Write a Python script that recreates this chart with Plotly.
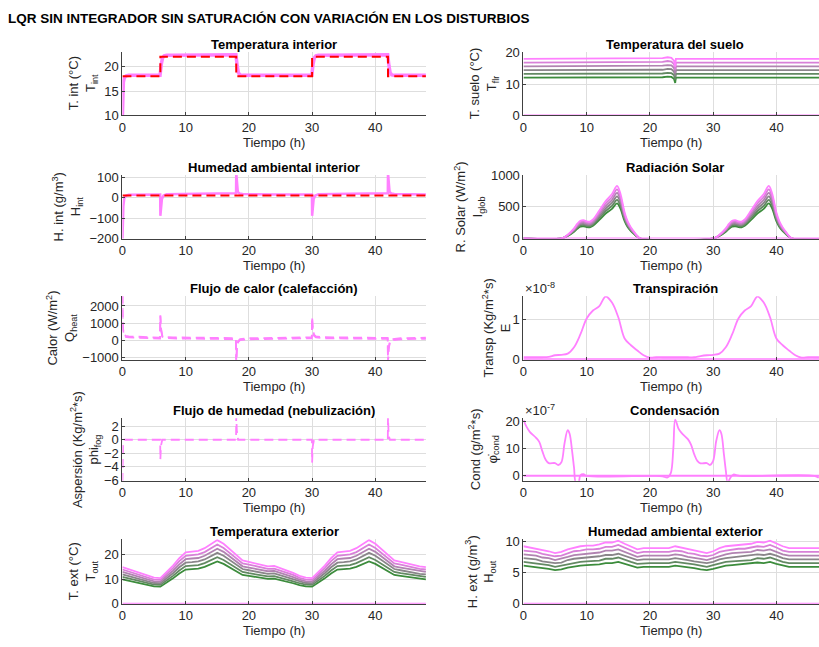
import plotly.graph_objects as go

# ------------------------------------------------------------------
# Data (time in hours)
# ------------------------------------------------------------------
t_hourly = list(range(49))

# Interior temperature (all scenarios overlap) and its set point
t_tint = [0, 0.05, 0.15, 0.3, 0.6, 1, 5.95, 6.15, 6.35, 6.6, 7, 8, 17.95, 18.15, 18.35, 18.6, 19, 20,
          29.95, 30.15, 30.35, 30.6, 31, 32, 41.95, 42.15, 42.35, 42.6, 43, 44, 48]
T_int = [10, 14.5, 16.8, 17.7, 18.1, 18.2, 18.2, 20.5, 21.8, 22.2, 22.3, 22.3, 22.4, 20.2, 18.7, 18.3, 18.2, 18.2,
         18.2, 20.5, 21.8, 22.2, 22.3, 22.3, 22.4, 20.2, 18.7, 18.3, 18.2, 18.2, 18.2]
t_tint_ref = [0, 6, 6, 18, 18, 30, 30, 42, 42, 48]
T_int_ref = [18, 18, 22, 22, 18, 18, 22, 22, 18, 18]

# Interior humidity and its set point
t_hint = [0, 0.05, 0.15, 0.3, 0.6, 1, 5.97, 6.0, 6.1, 6.25, 6.5, 7, 12, 17.97, 18.0, 18.1, 18.25, 18.5, 19, 24,
          29.97, 30.0, 30.1, 30.25, 30.5, 31, 36, 41.97, 42.0, 42.1, 42.25, 42.5, 43, 48]
H_int = [-210, -120, -40, 0, 12, 16, 17, -88, -35, -5, 12, 18, 21, 23, 125, 55, 30, 22, 19, 17,
         17, -88, -35, -5, 12, 18, 21, 23, 125, 55, 30, 22, 19, 17]
t_hint_ref = [0, 48]
H_int_ref = [12, 12]

# Heating flux (two overlapping scenario groups)
t_q = [0, 0.05, 0.2, 0.5, 1, 3, 5.95, 6.0, 6.1, 6.3, 6.6, 8, 12, 17.95, 18.0, 18.1, 18.3, 18.6, 20, 25,
       29.95, 30.0, 30.1, 30.3, 30.6, 32, 36, 41.95, 42.0, 42.1, 42.3, 42.6, 44, 48]
Q_heat_a = [2700, 900, 320, 250, 220, 180, 150, 1450, 700, 260, 190, 160, 140, 120, -1300, -500, -60, 60, 110, 140,
            170, 1350, 700, 320, 220, 170, 150, 130, -1300, -500, -60, 60, 110, 140]
Q_heat_b = [2600, 850, 260, 190, 160, 120, 90, 1400, 650, 200, 130, 100, 80, 60, -1350, -550, -120, 0, 50, 80,
            110, 1300, 650, 260, 160, 110, 90, 70, -1350, -550, -120, 0, 50, 80]

# Fogging flux
t_fog = [0, 0.03, 0.1, 0.3, 5.97, 6.0, 6.1, 6.3, 17.97, 18.0, 18.1, 18.3, 29.97, 30.0, 30.1, 30.3,
         41.97, 42.0, 42.1, 42.3, 48]
phi_fog = [-6.3, -3.0, -0.8, 0, 0, -2.9, -0.9, 0, 0, 3.6, 1.2, 0, 0, -3.4, -1.0, 0, 0, 3.4, 0.7, 0, 0]

# Floor temperature, one list per disturbance scenario (green -> magenta)
t_flr = [0, 21, 22, 22.8, 23.4, 23.8, 24.0, 24.1, 48]
T_flr = [
    [12.1, 12.1, 12.2, 12.4, 12.3, 11.7, 10.4, 12.1, 12.1],
    [13.3, 13.3, 13.4, 13.6, 13.5, 12.9, 11.4, 13.3, 13.3],
    [14.5, 14.5, 14.6, 14.9, 14.8, 14.0, 12.5, 14.5, 14.5],
    [15.7, 15.7, 15.9, 16.1, 16.0, 15.2, 13.5, 15.7, 15.7],
    [16.9, 16.9, 17.1, 17.4, 17.2, 16.4, 14.6, 16.9, 16.9],
    [18.1, 18.1, 18.3, 18.6, 18.4, 17.5, 15.6, 18.1, 18.1],
]

# Global solar radiation per scenario
t_rad = [0, 6, 7, 8, 8.5, 9, 9.5, 10, 10.5, 11, 12, 13, 14, 14.8, 15.3, 16, 16.5, 17, 17.5, 18, 18.5,
         30, 31, 32, 32.5, 33, 33.5, 34, 34.5, 35, 36, 37, 38, 38.8, 39.3, 40, 40.5, 41, 41.5, 42, 42.5, 48]
I_glob = [
    [0, 0, 40, 107, 153, 187, 193, 180, 177, 200, 293, 393, 467, 553, 480, 273, 177, 117, 70, 27, 0,
     0, 40, 107, 153, 187, 193, 180, 177, 200, 293, 393, 467, 553, 480, 273, 177, 117, 70, 27, 0, 0],
    [0, 0, 44, 117, 169, 205, 213, 198, 194, 220, 323, 433, 513, 609, 528, 301, 194, 128, 77, 29, 0,
     0, 44, 117, 169, 205, 213, 198, 194, 220, 323, 433, 513, 609, 528, 301, 194, 128, 77, 29, 0, 0],
    [0, 0, 48, 128, 184, 224, 232, 216, 212, 240, 352, 472, 560, 664, 576, 328, 212, 140, 84, 32, 0,
     0, 48, 128, 184, 224, 232, 216, 212, 240, 352, 472, 560, 664, 576, 328, 212, 140, 84, 32, 0, 0],
    [0, 0, 52, 139, 199, 243, 251, 234, 230, 260, 381, 511, 607, 719, 624, 355, 230, 152, 91, 35, 0,
     0, 52, 139, 199, 243, 251, 234, 230, 260, 381, 511, 607, 719, 624, 355, 230, 152, 91, 35, 0, 0],
    [0, 0, 56, 149, 215, 261, 271, 252, 247, 280, 411, 551, 653, 775, 672, 383, 247, 163, 98, 37, 0,
     0, 56, 149, 215, 261, 271, 252, 247, 280, 411, 551, 653, 775, 672, 383, 247, 163, 98, 37, 0, 0],
    [0, 0, 60, 160, 230, 280, 290, 270, 265, 300, 440, 590, 700, 830, 720, 410, 265, 175, 105, 40, 0,
     0, 60, 160, 230, 280, 290, 270, 265, 300, 440, 590, 700, 830, 720, 410, 265, 175, 105, 40, 0, 0],
]

# Transpiration (units of 1e-8 kg/m2 s), hourly
E_transp = [0.05, 0.05, 0.05, 0.05, 0.06, 0.10, 0.11, 0.14, 0.30, 0.62, 1.02, 1.22, 1.33, 1.57, 1.42, 1.05,
            0.52, 0.35, 0.22, 0.10, 0.04, 0.05, 0.05, 0.05, 0.05, 0.05, 0.05, 0.05, 0.08, 0.10, 0.11, 0.14,
            0.30, 0.62, 1.02, 1.22, 1.33, 1.57, 1.42, 1.05, 0.52, 0.35, 0.22, 0.10, 0.04, 0.05, 0.05, 0.05, 0.05]

# Condensation (units of 1e-7 g/m2 s)
t_cond = [0, 0.5, 1, 2, 2.5, 3, 3.5, 4, 5, 5.5, 6, 6.5, 7, 7.3, 7.7, 8, 8.3, 8.7, 9, 9.5, 10, 21, 22, 22.8,
          23.3, 23.7, 24, 24.5, 25, 26, 26.5, 27, 27.5, 28, 29, 29.5, 30, 30.5, 31, 31.3, 31.7, 32, 32.3,
          32.7, 33.2, 33.7, 34.2, 46, 46.7]
phi_cond = [20.5, 18, 16.2, 14, 12.5, 9, 6, 4.7, 4.7, 4, 5, 12, 16.8, 15.5, 9, 3, -2.5, -2.5, 0.2, 0.6, 0,
            0, -0.2, -0.6, 1, 10, 20.7, 17.5, 15.8, 13.5, 11.5, 8, 5.5, 4.6, 4.7, 4, 5.5, 13, 16.8, 15.5,
            8, 2, -2.5, -0.8, 0.5, 0.3, 0, 0, -0.7]

# Outdoor temperature per scenario, hourly
T_out = [
    [10.0, 9.4, 8.9, 8.3, 7.6, 7.1, 7.0, 8.6, 10.4, 12.4, 14.0, 14.2, 14.4, 15.1, 16.3, 17.3, 16.3, 14.8, 13.1, 11.8,
     11.4, 11.0, 10.5, 10.2, 10.3, 9.7, 9.2, 8.4, 7.6, 7.1, 7.0, 8.6, 10.4, 12.4, 14.0, 14.2, 14.4, 15.1, 16.3, 17.3,
     16.3, 14.8, 13.1, 11.8, 11.4, 11.0, 10.5, 10.2, 10.0],
    [11.0, 10.3, 9.8, 9.1, 8.4, 7.8, 7.7, 9.5, 11.4, 13.6, 15.4, 15.6, 15.8, 16.6, 17.9, 19.0, 17.9, 16.3, 14.4, 13.0,
     12.5, 12.1, 11.6, 11.2, 11.3, 10.7, 10.1, 9.2, 8.4, 7.8, 7.7, 9.5, 11.4, 13.6, 15.4, 15.6, 15.8, 16.6, 17.9, 19.0,
     17.9, 16.3, 14.4, 13.0, 12.5, 12.1, 11.6, 11.2, 11.0],
    [12.0, 11.3, 10.7, 10.0, 9.1, 8.5, 8.4, 10.3, 12.5, 14.9, 16.8, 17.0, 17.3, 18.1, 19.6, 20.8, 19.6, 17.8, 15.7, 14.2,
     13.7, 13.2, 12.6, 12.2, 12.4, 11.6, 11.0, 10.1, 9.1, 8.5, 8.4, 10.3, 12.5, 14.9, 16.8, 17.0, 17.3, 18.1, 19.6, 20.8,
     19.6, 17.8, 15.7, 14.2, 13.7, 13.2, 12.6, 12.2, 12.0],
    [13.0, 12.2, 11.6, 10.8, 9.9, 9.2, 9.1, 11.2, 13.5, 16.1, 18.2, 18.5, 18.7, 19.6, 21.2, 22.5, 21.2, 19.2, 17.0, 15.3,
     14.8, 14.3, 13.7, 13.3, 13.4, 12.6, 12.0, 10.9, 9.9, 9.2, 9.1, 11.2, 13.5, 16.1, 18.2, 18.5, 18.7, 19.6, 21.2, 22.5,
     21.2, 19.2, 17.0, 15.3, 14.8, 14.3, 13.7, 13.3, 13.0],
    [14.0, 13.2, 12.5, 11.6, 10.6, 9.9, 9.8, 12.0, 14.6, 17.4, 19.6, 19.9, 20.2, 21.1, 22.8, 24.2, 22.8, 20.7, 18.3, 16.5,
     16.0, 15.4, 14.7, 14.3, 14.4, 13.6, 12.9, 11.8, 10.6, 9.9, 9.8, 12.0, 14.6, 17.4, 19.6, 19.9, 20.2, 21.1, 22.8, 24.2,
     22.8, 20.7, 18.3, 16.5, 16.0, 15.4, 14.7, 14.3, 14.0],
    [15.0, 14.1, 13.4, 12.5, 11.4, 10.7, 10.5, 12.9, 15.6, 18.6, 21.0, 21.3, 21.6, 22.7, 24.5, 26.0, 24.5, 22.2, 19.7, 17.7,
     17.1, 16.5, 15.8, 15.3, 15.5, 14.6, 13.8, 12.6, 11.4, 10.7, 10.5, 12.9, 15.6, 18.6, 21.0, 21.3, 21.6, 22.7, 24.5, 26.0,
     24.5, 22.2, 19.7, 17.7, 17.1, 16.5, 15.8, 15.3, 15.0],
]

# Outdoor humidity per scenario, hourly
H_out = [
    [6.1, 6.0, 5.9, 5.7, 5.6, 5.4, 5.5, 5.8, 6.0, 6.1, 6.2, 6.2, 6.3, 6.5, 6.5, 6.7, 6.4, 6.1, 5.8, 5.9, 5.9, 5.9, 5.9, 5.9,
     6.1, 6.0, 5.8, 5.7, 5.5, 5.4, 5.6, 5.9, 6.1, 6.2, 6.3, 6.3, 6.4, 6.6, 6.5, 6.7, 6.4, 6.1, 5.9, 5.9, 5.9, 5.9, 5.9, 5.9, 5.9],
    [6.7, 6.6, 6.5, 6.3, 6.2, 5.9, 6.1, 6.4, 6.6, 6.7, 6.8, 6.8, 6.9, 7.2, 7.2, 7.4, 7.0, 6.7, 6.4, 6.5, 6.5, 6.5, 6.5, 6.5,
     6.7, 6.6, 6.4, 6.3, 6.1, 5.9, 6.2, 6.5, 6.7, 6.8, 6.9, 6.9, 7.0, 7.3, 7.2, 7.4, 7.0, 6.7, 6.5, 6.5, 6.5, 6.5, 6.5, 6.5, 6.5],
    [7.3, 7.2, 7.1, 6.8, 6.7, 6.5, 6.6, 7.0, 7.2, 7.3, 7.4, 7.4, 7.6, 7.8, 7.8, 8.0, 7.7, 7.3, 7.0, 7.1, 7.1, 7.1, 7.1, 7.1,
     7.3, 7.2, 7.0, 6.8, 6.6, 6.5, 6.7, 7.1, 7.3, 7.4, 7.6, 7.6, 7.7, 7.9, 7.8, 8.0, 7.7, 7.3, 7.1, 7.1, 7.1, 7.1, 7.1, 7.1, 7.1],
    [7.9, 7.8, 7.7, 7.4, 7.3, 7.0, 7.2, 7.5, 7.8, 7.9, 8.1, 8.1, 8.2, 8.5, 8.5, 8.7, 8.3, 7.9, 7.5, 7.7, 7.7, 7.7, 7.7, 7.7,
     7.9, 7.8, 7.5, 7.4, 7.2, 7.0, 7.3, 7.7, 7.9, 8.1, 8.2, 8.2, 8.3, 8.6, 8.5, 8.7, 8.3, 7.9, 7.7, 7.7, 7.7, 7.7, 7.7, 7.7, 7.7],
    [8.5, 8.4, 8.3, 8.0, 7.8, 7.6, 7.7, 8.1, 8.4, 8.5, 8.7, 8.7, 8.8, 9.1, 9.1, 9.4, 9.0, 8.5, 8.1, 8.3, 8.3, 8.3, 8.3, 8.3,
     8.5, 8.4, 8.1, 8.0, 7.7, 7.6, 7.8, 8.3, 8.5, 8.7, 8.8, 8.8, 9.0, 9.2, 9.1, 9.4, 9.0, 8.5, 8.3, 8.3, 8.3, 8.3, 8.3, 8.3, 8.3],
    [9.2, 9.0, 8.9, 8.6, 8.4, 8.1, 8.3, 8.7, 9.0, 9.2, 9.3, 9.3, 9.5, 9.8, 9.8, 10.1, 9.6, 9.2, 8.7, 8.9, 8.9, 8.9, 8.9, 8.9,
     9.2, 9.0, 8.7, 8.6, 8.3, 8.1, 8.4, 8.9, 9.2, 9.3, 9.5, 9.5, 9.6, 9.9, 9.8, 10.1, 9.6, 9.2, 8.9, 8.9, 8.9, 8.9, 8.9, 8.9, 8.9],
]

# Zero reference plotted alongside the disturbances
t_zero = [0, 48]
zero_line = [0, 0]

# ------------------------------------------------------------------
# Styling
# ------------------------------------------------------------------
FIG_W, FIG_H = 819, 647
FONT = "Liberation Sans, Arial, Helvetica, sans-serif"
INK = "#262626"
MAGENTA = "rgb(255,128,255)"
SCENARIO_COLORS = ["rgb(60,140,60)", "rgb(99,137,99)", "rgb(138,134,138)",
                   "rgb(177,131,177)", "rgb(216,128,216)", "rgb(255,128,255)"]

COL_PX = {"L": (119, 424), "R": (522, 819)}
ROW_PX = [(46, 111), (172, 237), (296, 361), (421, 485), (545, 611)]
PX_PER_H = (424 - 119) / 48.0
X_RANGE = {"L": [0, 48], "R": [0, (819 - 522) / PX_PER_H]}
TITLE_CX = {"L": (119 + 424) / 2, "R": 522 + 24 * PX_PER_H}


def fx(px):
    return px / FIG_W


def fy(px):
    return 1 - px / FIG_H


# (col, row, y range, y ticks, title, y label, label centre px)
panels = [
    ("L", 0, [10, 23], [10, 15, 20], "Temperatura interior", "T. int (°C)<br>T<sub>int</sub>", 79),
    ("R", 0, [0, 20.3], [0, 10, 20], "Temperatura del suelo", "T. suelo (°C)<br>T<sub>flr</sub>", 482),
    ("L", 1, [-200, 113], [-200, -100, 0, 100], "Humedad ambiental interior", "H. int (g/m<sup>3</sup>)<br>H<sub>int</sub>", 64),
    ("R", 1, [0, 1000], [0, 500, 1000], "Radiación Solar", "R. Solar (W/m<sup>2</sup>)<br>I<sub>glob</sub>", 468),
    ("L", 2, [-1140, 2575], [-1000, 0, 1000, 2000], "Flujo de calor (calefacción)", "Calor (W/m<sup>2</sup>)<br>Q<sub>heat</sub>", 58),
    ("R", 2, [-0.01, 1.58], [0, 1], "Transpiración", "Transp (Kg/m<sup>2</sup>*s)<br>E", 495),
    ("L", 3, [-6.1, 3.2], [-6, -4, -2, 0, 2], "Flujo de humedad (nebulización)", "Aspersión (Kg/m<sup>2</sup>*s)<br>phi<sub>fog</sub>", 82),
    ("R", 3, [-1.8, 21.2], [0, 10, 20], "Condensación", "Cond (g/m<sup>2</sup>*s)<br>φ̇<sub>cond</sub>", 482),
    ("L", 4, [0, 26.3], [0, 10, 20], "Temperatura exterior", "T. ext (°C)<br>T<sub>out</sub>", 79),
    ("R", 4, [0, 10.3], [0, 5, 10], "Humedad ambiental exterior", "H. ext (g/m<sup>3</sup>)<br>H<sub>out</sub>", 479),
]

fig = go.Figure()
layout = {}
annotations = []

for i, (col, row, yr, yt, title, ylab, ylab_cx) in enumerate(panels):
    n = i + 1
    suffix = "" if n == 1 else str(n)
    x0, x1 = COL_PX[col]
    top, bot = ROW_PX[row]
    axis_common = dict(
        showline=True, linecolor="#404040", linewidth=1, mirror=False,
        showgrid=True, gridcolor="#dedede", gridwidth=1, zeroline=False,
        ticks="inside", ticklen=3, tickcolor="#404040",
        tickfont=dict(family=FONT, size=13, color=INK),
        fixedrange=True,
    )
    layout["xaxis" + suffix] = dict(
        axis_common, domain=[fx(x0), fx(x1)], range=X_RANGE[col],
        tickvals=[0, 10, 20, 30, 40], anchor="y" + suffix,
        title=dict(text="Tiempo (h)", font=dict(family=FONT, size=13, color=INK), standoff=2),
    )
    layout["yaxis" + suffix] = dict(
        axis_common, domain=[fy(bot), fy(top)], range=yr, tickvals=yt, anchor="x" + suffix,
    )
    annotations.append(dict(
        text="<b>%s</b>" % title, x=fx(TITLE_CX[col]), y=fy(top - 8), xref="paper", yref="paper",
        xanchor="center", yanchor="middle", showarrow=False,
        font=dict(family=FONT, size=13, color="#000000"),
    ))
    annotations.append(dict(
        text=ylab, x=fx(ylab_cx), y=fy((top + bot) / 2), xref="paper", yref="paper",
        xanchor="center", yanchor="middle", textangle=-90, showarrow=False,
        font=dict(family=FONT, size=13, color=INK),
    ))

# exponent markers for the scaled axes
for row, txt in ((2, "×10<sup>-8</sup>"), (3, "×10<sup>-7</sup>")):
    annotations.append(dict(
        text=txt, x=fx(522), y=fy(ROW_PX[row][0] - 8), xref="paper", yref="paper",
        xanchor="left", yanchor="middle", showarrow=False,
        font=dict(family=FONT, size=13, color=INK),
    ))


def axes_of(n):
    s = "" if n == 1 else str(n)
    return dict(xaxis="x" + s, yaxis="y" + s)


def line(n, x, y, color=MAGENTA, width=1.8, dash=None, shape="linear", opacity=1.0):
    fig.add_trace(go.Scatter(
        x=x, y=y, mode="lines", showlegend=False, hoverinfo="skip", opacity=opacity,
        line=dict(color=color, width=width, dash=dash, shape=shape), **axes_of(n)))


DASH = "9px,5px"

# 1: interior temperature
line(1, t_tint, T_int, width=3.5)
line(1, t_tint_ref, T_int_ref, color="#ff0000", width=2, dash=DASH)

# 2: floor temperature
line(2, t_zero, zero_line, width=2)
for k, series in enumerate(T_flr):
    line(2, t_flr, series, color=SCENARIO_COLORS[k])

# 3: interior humidity
line(3, t_hint, H_int, width=2.5)
line(3, t_hint_ref, H_int_ref, color="#ff0000", width=2, dash=DASH)

# 4: solar radiation
for k, series in enumerate(I_glob):
    line(4, t_rad, series, color=SCENARIO_COLORS[k], shape="spline")
line(4, t_zero, zero_line, width=2)

# 5: heating flux
line(5, t_q, Q_heat_a, dash=DASH)
line(5, t_q, Q_heat_b, dash=DASH)

# 6: transpiration
line(6, t_zero, zero_line, width=2)
line(6, t_hourly, E_transp, shape="spline")

# 7: fogging flux
line(7, t_fog, phi_fog, dash=DASH)

# 8: condensation
line(8, t_zero, zero_line, width=2)
line(8, t_cond, phi_cond, shape="spline")

# 9: outdoor temperature
line(9, t_zero, zero_line, width=2)
for k, series in enumerate(T_out):
    line(9, t_hourly, series, color=SCENARIO_COLORS[k])

# 10: outdoor humidity
line(10, t_zero, zero_line, width=2)
for k, series in enumerate(H_out):
    line(10, t_hourly, series, color=SCENARIO_COLORS[k])

fig.update_layout(
    **layout,
    annotations=annotations,
    width=FIG_W, height=FIG_H,
    margin=dict(l=0, r=0, t=0, b=0),
    paper_bgcolor="white", plot_bgcolor="white",
    font=dict(family=FONT, size=13, color=INK),
    title=dict(text="<b>LQR SIN INTEGRADOR SIN SATURACIÓN CON VARIACIÓN EN LOS DISTURBIOS</b>",
               x=fx(8), xanchor="left", y=fy(18), yanchor="middle",
               font=dict(family=FONT, size=13.5, color="#000000")),
)

fig.write_html("out.html")
